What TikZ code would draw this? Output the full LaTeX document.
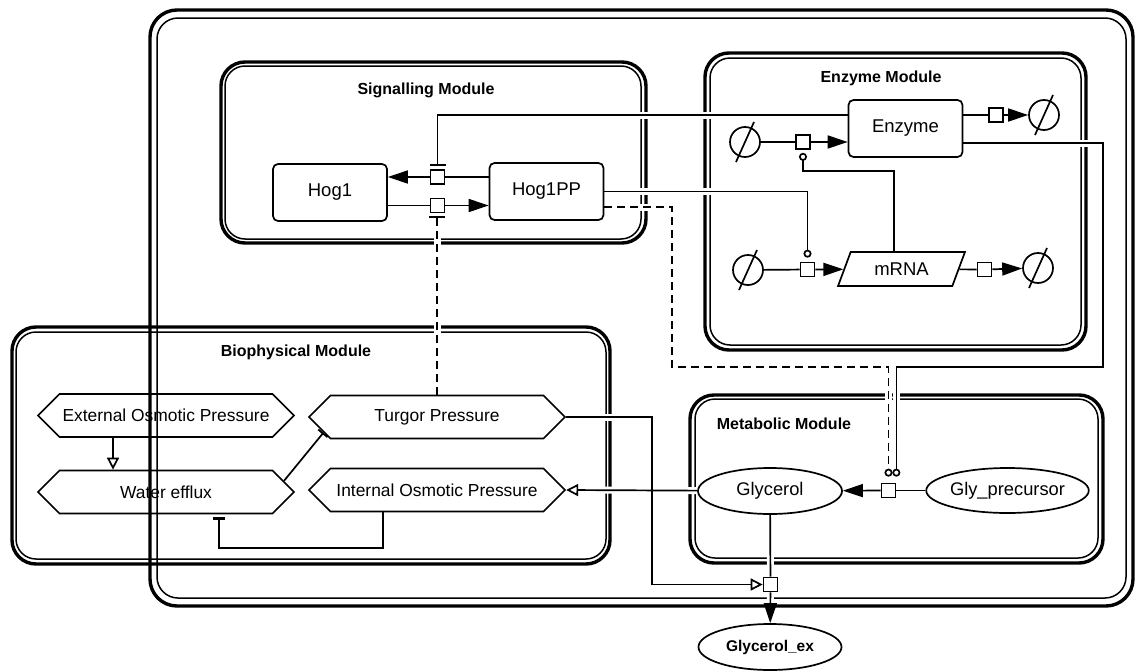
\documentclass[tikz,border=0pt]{standalone}
\usepackage{fontspec}
\setmainfont{Liberation Sans}
\usetikzlibrary{arrows.meta,shapes.geometric,shapes.symbols,calc}

\pgfdeclarelayer{comp}
\pgfdeclarelayer{halo}
\pgfsetlayers{comp,halo,main}

\tikzset{
  species/.style={draw, line width=1.7pt, rounded corners=5pt, minimum width=114pt, minimum height=57pt, font=\fontsize{18.5}{22}\selectfont},
  hexa/.style={draw, line width=1.7pt, shape=signal, signal to=west and east, signal pointer angle=90, minimum width=256pt, minimum height=43pt, inner sep=0pt, font=\fontsize{17.4}{20}\selectfont},
  metab/.style={draw, line width=1.7pt, ellipse, inner sep=0pt, minimum width=144pt, minimum height=46pt, font=\fontsize{18.3}{22}\selectfont},
  procsq/.style={draw, line width=1.7pt, fill=white, minimum size=14pt, inner sep=0pt},
  sink/.style={draw, line width=1.7pt, circle, minimum size=30pt, inner sep=0pt},
  modlabel/.style={font=\bfseries\fontsize{16}{19}\selectfont},
  modout/.style={line width=3.4pt, rounded corners=24pt},
  modin/.style={line width=1.5pt, rounded corners=20pt},
  conn/.style={line width=1.7pt},
  prod/.style={conn, -{Triangle[length=20pt,width=13pt]}},
  stim/.style={conn, -{Triangle[open,length=12pt,width=12pt]}},
  inhib/.style={conn, -{Bar[width=16pt,line width=2.2pt]}},
  catal/.style={conn, -{Circle[open,length=8pt,width=8pt]}},
  logic/.style={dash pattern=on 8pt off 5pt}
}

% connector with a white gap where it crosses a module border
\newcommand{\wire}[2][conn]{%
  \begin{pgfonlayer}{halo}\draw[white, line width=7pt] #2;\end{pgfonlayer}
  \draw[#1] #2;}

\begin{document}
\begin{tikzpicture}[x=1pt,y=-1pt]
\useasboundingbox (0,0) rectangle (1136,672);

% compartments
\begin{pgfonlayer}{comp}
\draw[modout, rounded corners=27pt] (150,10) rectangle (1133,606);
\draw[modin, rounded corners=21pt] (157,18) rectangle (1126,598);
\draw[modout] (221,62) rectangle (646,243);
\draw[modin] (225,66) rectangle (641,239);
\draw[modout] (705,53) rectangle (1086,350);
\draw[modin] (710,58) rectangle (1081,345);
\draw[modout] (12,327) rectangle (610,564);
\draw[modin] (16,332) rectangle (606,559);
\draw[modout] (690,395) rectangle (1103,563);
\draw[modin] (695,399) rectangle (1098,558);
\end{pgfonlayer}

\node[modlabel] (lsig) at (426,90) {Signalling Module};
\node[modlabel] (lenz) at (881,78) {Enzyme Module};
\node[modlabel] (lbio) at (296,352) {Biophysical Module};
\node[modlabel] (lmet) at (784,424) {Metabolic Module};

% entities
\node[species] (hog1) at (330,192.5) {Hog1};
\node[species] (hog1pp) at (546.5,191.5) {Hog1PP};
\node[species] (enz) at (905.5,128.5) {Enzyme};
\node[draw, line width=1.7pt, trapezium, trapezium left angle=62, trapezium right angle=118,
  trapezium stretches=true, minimum width=127pt, minimum height=34pt, inner sep=0pt,
  font=\fontsize{18.5}{22}\selectfont] (mrna) at (901.5,269) {mRNA};

\node[hexa] (ext) at (166,415.5) {External Osmotic Pressure};
\node[hexa] (water) at (166,492) {Water efflux};
\node[hexa] (turgor) at (437,417) {Turgor Pressure};
\node[hexa] (intp) at (437,490) {Internal Osmotic Pressure};

\node[metab] (gly) at (770,491) {Glycerol};
\node[metab, minimum width=143pt, minimum height=45pt] (prec) at (1007.5,490.5) {Gly\_precursor};
\node[metab, minimum width=143pt, font=\bfseries\fontsize{15.5}{18}\selectfont] (glyex) at (770,647) {Glycerol\_ex};

\node[sink] (src1) at (745,142) {};
\node[sink] (deg1) at (1044,115) {};
\node[sink] (src2) at (748,270) {};
\node[sink] (deg2) at (1038,268) {};
\foreach \s in {src1,deg1,src2,deg2}
  \draw[conn] ([shift={(-9,20)}]\s.center) -- ([shift={(9,-20)}]\s.center);

% process nodes
\node[procsq] (r1) at (437.5,177) {};
\node[procsq] (r2) at (437.5,205.5) {};
\node[procsq] (r3) at (996,115) {};
\node[procsq] (r5) at (803,142) {};
\node[procsq] (r4) at (807.5,269.5) {};
\node[procsq] (r7) at (984.5,269.5) {};
\node[procsq] (r6) at (888.5,490.5) {};
\node[procsq] (r8) at (770.5,584.5) {};

\coordinate (k1) at (803,171);
\coordinate (k2) at (219,548);
\coordinate (k3) at (652,584.5);
\coordinate (k4) at (672,367);
\coordinate (k5) at (1103,367);

% signalling
\wire{(hog1pp.west |- r1) -- (r1)}
\wire[prod]{(r1) -- (hog1.east |- r1)}
\wire{(hog1.east |- r2) -- (r2)}
\wire[prod]{(r2) -- (hog1pp.west |- r2)}
\wire[inhib, shorten >=3pt]{([yshift=13.5pt]enz.west) -| (r1.north)}
\wire[inhib, logic, shorten >=2.5pt]{(turgor.north) -- (turgor.north |- r2.south)}
\wire[catal, shorten >=4pt]{(hog1pp.east) -| (r4.north)}
\wire[catal, logic, shorten >=6pt]{([yshift=-15.5pt]hog1pp.east) -| (k4) -| (r6.north)}
\wire[catal, shorten >=6pt]{([yshift=-14.5pt]enz.east) -| (k5) -| (r6.north east)}

% enzyme and mRNA turnover
\wire{(src1) -- (r5)}
\wire[prod]{(r5) -- (enz.west |- r5)}
\wire[catal, shorten >=3pt]{([xshift=-7.5pt]mrna.north) |- (k1) -- (r5.south)}
\wire{(enz.east |- r3) -- (r3)}
\wire[prod]{(r3) -- (deg1)}
\wire{(src2) -- (r4)}
\wire[prod]{(r4) -- (mrna)}
\wire{(mrna) -- (r7)}
\wire[prod]{(r7) -- (deg2)}

% biophysical
\wire[stim]{([xshift=-53pt]ext.south) -- ([xshift=-53pt]water.north)}
\wire[conn, -{Bar[width=12pt,line width=1.8pt]}]{($(water.east)!0.5!(water.north east)$) -- ($(turgor.west)!0.7!(turgor.south west)$)}
\wire[inhib, -{Bar[width=12pt,line width=2.2pt]}, shorten >=3pt]{([xshift=-54pt]intp.south) |- (k2) -- (k2 |- water.south)}
\wire[stim]{(gly) -- (intp.east)}
\wire[stim]{(turgor.east) -| (k3) -- (r8)}

% metabolic
\wire{(prec) -- (r6)}
\wire[prod]{(r6) -- (gly)}
\wire{(gly) -- (r8)}
\wire[prod]{(r8) -- (glyex)}
\end{tikzpicture}
\end{document}
